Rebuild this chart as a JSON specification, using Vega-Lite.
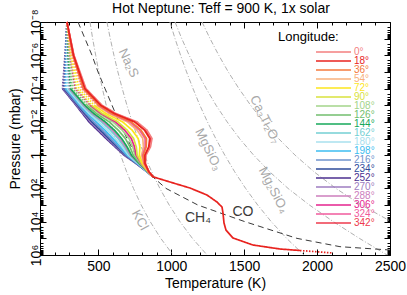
{
"$schema": "https://vega.github.io/schema/vega-lite/v6.json",
"width": 350, "height": 233,
"autosize": {"type": "none"},
"padding": {"left": 40, "top": 22, "right": 17, "bottom": 40},
"background": "white",
"config": {"font": "Liberation Sans", "view": {"stroke": "black", "strokeWidth": 1}},
"title": {"text": "Hot Neptune: Teff = 900 K, 1x solar", "fontSize": 14, "fontWeight": "normal", "color": "black", "anchor": "middle", "offset": -7, "dx": 6},
"datasets": {
"cond": [
{"name":"KCl","T":443,"P":1e-8},{"name":"KCl","T":461,"P":1e-7},{"name":"KCl","T":482,"P":1e-6},{"name":"KCl","T":503,"P":1e-5},{"name":"KCl","T":528,"P":1e-4},{"name":"KCl","T":554,"P":1e-3},{"name":"KCl","T":584,"P":1e-2},{"name":"KCl","T":616,"P":0.1},{"name":"KCl","T":653,"P":1},{"name":"KCl","T":694,"P":10},{"name":"KCl","T":741,"P":100},{"name":"KCl","T":794,"P":1000},{"name":"KCl","T":856,"P":10000},{"name":"KCl","T":928,"P":100000},{"name":"KCl","T":1013,"P":1000000},
{"name":"Na2S","T":559,"P":1e-8},{"name":"Na2S","T":582,"P":1e-7},{"name":"Na2S","T":607,"P":1e-6},{"name":"Na2S","T":634,"P":1e-5},{"name":"Na2S","T":664,"P":1e-4},{"name":"Na2S","T":696,"P":1e-3},{"name":"Na2S","T":732,"P":1e-2},{"name":"Na2S","T":772,"P":0.1},{"name":"Na2S","T":816,"P":1},{"name":"Na2S","T":866,"P":10},{"name":"Na2S","T":922,"P":100},{"name":"Na2S","T":986,"P":1000},{"name":"Na2S","T":1060,"P":10000},{"name":"Na2S","T":1145,"P":100000},{"name":"Na2S","T":1246,"P":1000000},
{"name":"MgSiO3","T":991,"P":1e-8},{"name":"MgSiO3","T":1026,"P":1e-7},{"name":"MgSiO3","T":1064,"P":1e-6},{"name":"MgSiO3","T":1105,"P":1e-5},{"name":"MgSiO3","T":1149,"P":1e-4},{"name":"MgSiO3","T":1196,"P":1e-3},{"name":"MgSiO3","T":1248,"P":1e-2},{"name":"MgSiO3","T":1305,"P":0.1},{"name":"MgSiO3","T":1367,"P":1},{"name":"MgSiO3","T":1435,"P":10},{"name":"MgSiO3","T":1510,"P":100},{"name":"MgSiO3","T":1593,"P":1000},{"name":"MgSiO3","T":1686,"P":10000},{"name":"MgSiO3","T":1791,"P":100000},{"name":"MgSiO3","T":1910,"P":1000000},
{"name":"Mg2SiO4","T":1026,"P":1e-8},{"name":"Mg2SiO4","T":1072,"P":1e-7},{"name":"Mg2SiO4","T":1123,"P":1e-6},{"name":"Mg2SiO4","T":1178,"P":1e-5},{"name":"Mg2SiO4","T":1240,"P":1e-4},{"name":"Mg2SiO4","T":1307,"P":1e-3},{"name":"Mg2SiO4","T":1383,"P":1e-2},{"name":"Mg2SiO4","T":1468,"P":0.1},{"name":"Mg2SiO4","T":1565,"P":1},{"name":"Mg2SiO4","T":1675,"P":10},{"name":"Mg2SiO4","T":1801,"P":100},{"name":"Mg2SiO4","T":1948,"P":1000},{"name":"Mg2SiO4","T":2112,"P":10000},{"name":"Mg2SiO4","T":2290,"P":100000},{"name":"Mg2SiO4","T":2480,"P":1000000},
{"name":"Ca3Ti2O7","T":1211,"P":1e-8},{"name":"Ca3Ti2O7","T":1266,"P":1e-7},{"name":"Ca3Ti2O7","T":1326,"P":1e-6},{"name":"Ca3Ti2O7","T":1391,"P":1e-5},{"name":"Ca3Ti2O7","T":1464,"P":1e-4},{"name":"Ca3Ti2O7","T":1544,"P":1e-3},{"name":"Ca3Ti2O7","T":1634,"P":1e-2},{"name":"Ca3Ti2O7","T":1735,"P":0.1},{"name":"Ca3Ti2O7","T":1849,"P":1},{"name":"Ca3Ti2O7","T":1979,"P":10},{"name":"Ca3Ti2O7","T":2129,"P":100},{"name":"Ca3Ti2O7","T":2304,"P":1000},{"name":"Ca3Ti2O7","T":2510,"P":10000},{"name":"Ca3Ti2O7","T":2756,"P":100000}
],
"chco": [
{"T":360.6,"P":1e-8},{"T":408.6,"P":1e-7},{"T":456.6,"P":1e-6},{"T":497.7,"P":1e-5},{"T":545.7,"P":1e-4},{"T":593.7,"P":1e-3},{"T":641.7,"P":1e-2},{"T":696.6,"P":0.1},{"T":758.3,"P":1},{"T":833.7,"P":10},{"T":964,"P":100},{"T":1183,"P":1000},{"T":1506,"P":10000},{"T":1862,"P":100000},{"T":2157,"P":316228},{"T":2500,"P":501187}
],
"condlabels": [
{"name":"Na₂S","T":707,"P":2.9e-6},
{"name":"MgSiO₃","T":1255,"P":0.46},
{"name":"Ca₃Ti₂O₇","T":1643,"P":0.0072},
{"name":"Mg₂SiO₄","T":1701,"P":126},
{"name":"KCl","T":786,"P":7943}
],
"species": [
{"name":"CH₄","T":1183,"P":6000},
{"name":"CO","T":1492,"P":2630}
],
"tp": [
{"lon":"252°","T":285.1,"P":1e-8,"seg":"dotted"},{"lon":"252°","T":271.4,"P":1e-6,"seg":"dotted"},{"lon":"252°","T":254.3,"P":1e-4,"seg":"dotted"},
{"lon":"252°","T":254.3,"P":1e-4,"seg":"solid"},{"lon":"252°","T":346.9,"P":0.001,"seg":"solid"},{"lon":"252°","T":391.4,"P":0.003162,"seg":"solid"},{"lon":"252°","T":436.0,"P":0.01,"seg":"solid"},{"lon":"252°","T":494.3,"P":0.03162,"seg":"solid"},{"lon":"252°","T":552.6,"P":0.1,"seg":"solid"},{"lon":"252°","T":614.3,"P":0.3162,"seg":"solid"},{"lon":"252°","T":676.0,"P":1,"seg":"solid"},{"lon":"252°","T":758.3,"P":3.162,"seg":"solid"},{"lon":"252°","T":833.7,"P":10,"seg":"solid"},{"lon":"252°","T":874.8,"P":19.95,"seg":"solid"},
{"lon":"270°","T":285.1,"P":1e-8,"seg":"dotted"},{"lon":"270°","T":273.3,"P":1e-6,"seg":"dotted"},{"lon":"270°","T":259.1,"P":1e-4,"seg":"dotted"},
{"lon":"270°","T":259.1,"P":1e-4,"seg":"solid"},{"lon":"270°","T":352.2,"P":0.001,"seg":"solid"},{"lon":"270°","T":398.3,"P":0.003162,"seg":"solid"},{"lon":"270°","T":445.9,"P":0.01,"seg":"solid"},{"lon":"270°","T":504.5,"P":0.03162,"seg":"solid"},{"lon":"270°","T":562.1,"P":0.1,"seg":"solid"},{"lon":"270°","T":621.6,"P":0.3162,"seg":"solid"},{"lon":"270°","T":680.5,"P":1,"seg":"solid"},{"lon":"270°","T":760.3,"P":3.162,"seg":"solid"},{"lon":"270°","T":834.1,"P":10,"seg":"solid"},{"lon":"270°","T":874.8,"P":19.95,"seg":"solid"},
{"lon":"234°","T":285.1,"P":1e-8,"seg":"dotted"},{"lon":"234°","T":275.1,"P":1e-6,"seg":"dotted"},{"lon":"234°","T":264.0,"P":1e-4,"seg":"dotted"},
{"lon":"234°","T":264.0,"P":1e-4,"seg":"solid"},{"lon":"234°","T":357.6,"P":0.001,"seg":"solid"},{"lon":"234°","T":405.2,"P":0.003162,"seg":"solid"},{"lon":"234°","T":455.7,"P":0.01,"seg":"solid"},{"lon":"234°","T":514.7,"P":0.03162,"seg":"solid"},{"lon":"234°","T":571.5,"P":0.1,"seg":"solid"},{"lon":"234°","T":628.9,"P":0.3162,"seg":"solid"},{"lon":"234°","T":685.0,"P":1,"seg":"solid"},{"lon":"234°","T":762.2,"P":3.162,"seg":"solid"},{"lon":"234°","T":834.5,"P":10,"seg":"solid"},{"lon":"234°","T":874.8,"P":19.95,"seg":"solid"},
{"lon":"216°","T":285.1,"P":1e-8,"seg":"dotted"},{"lon":"216°","T":277.6,"P":1e-6,"seg":"dotted"},{"lon":"216°","T":270.4,"P":1e-4,"seg":"dotted"},
{"lon":"216°","T":270.4,"P":1e-4,"seg":"solid"},{"lon":"216°","T":364.7,"P":0.001,"seg":"solid"},{"lon":"216°","T":414.4,"P":0.003162,"seg":"solid"},{"lon":"216°","T":468.9,"P":0.01,"seg":"solid"},{"lon":"216°","T":528.2,"P":0.03162,"seg":"solid"},{"lon":"216°","T":584.1,"P":0.1,"seg":"solid"},{"lon":"216°","T":638.6,"P":0.3162,"seg":"solid"},{"lon":"216°","T":691.1,"P":1,"seg":"solid"},{"lon":"216°","T":764.8,"P":3.162,"seg":"solid"},{"lon":"216°","T":835.1,"P":10,"seg":"solid"},{"lon":"216°","T":874.8,"P":19.95,"seg":"solid"},
{"lon":"198°","T":285.1,"P":1e-8,"seg":"dotted"},{"lon":"198°","T":280.7,"P":1e-6,"seg":"dotted"},{"lon":"198°","T":278.5,"P":1e-4,"seg":"dotted"},
{"lon":"198°","T":278.5,"P":1e-4,"seg":"solid"},{"lon":"198°","T":373.6,"P":0.001,"seg":"solid"},{"lon":"198°","T":425.9,"P":0.003162,"seg":"solid"},{"lon":"198°","T":485.4,"P":0.01,"seg":"solid"},{"lon":"198°","T":545.2,"P":0.03162,"seg":"solid"},{"lon":"198°","T":599.9,"P":0.1,"seg":"solid"},{"lon":"198°","T":650.8,"P":0.3162,"seg":"solid"},{"lon":"198°","T":698.6,"P":1,"seg":"solid"},{"lon":"198°","T":768.1,"P":3.162,"seg":"solid"},{"lon":"198°","T":835.8,"P":10,"seg":"solid"},{"lon":"198°","T":874.8,"P":19.95,"seg":"solid"},
{"lon":"180°","T":285.1,"P":1e-8,"seg":"dotted"},{"lon":"180°","T":283.7,"P":1e-6,"seg":"dotted"},{"lon":"180°","T":286.5,"P":1e-4,"seg":"dotted"},
{"lon":"180°","T":286.5,"P":1e-4,"seg":"solid"},{"lon":"180°","T":382.5,"P":0.001,"seg":"solid"},{"lon":"180°","T":437.3,"P":0.003162,"seg":"solid"},{"lon":"180°","T":501.8,"P":0.01,"seg":"solid"},{"lon":"180°","T":562.2,"P":0.03162,"seg":"solid"},{"lon":"180°","T":615.7,"P":0.1,"seg":"solid"},{"lon":"180°","T":663.0,"P":0.3162,"seg":"solid"},{"lon":"180°","T":706.2,"P":1,"seg":"solid"},{"lon":"180°","T":771.3,"P":3.162,"seg":"solid"},{"lon":"180°","T":836.4,"P":10,"seg":"solid"},{"lon":"180°","T":874.8,"P":19.95,"seg":"solid"},
{"lon":"162°","T":285.1,"P":1e-8,"seg":"dotted"},{"lon":"162°","T":287.4,"P":1e-6,"seg":"dotted"},{"lon":"162°","T":296.2,"P":1e-4,"seg":"dotted"},
{"lon":"162°","T":296.2,"P":1e-4,"seg":"solid"},{"lon":"162°","T":393.2,"P":0.001,"seg":"solid"},{"lon":"162°","T":451.1,"P":0.003162,"seg":"solid"},{"lon":"162°","T":521.6,"P":0.01,"seg":"solid"},{"lon":"162°","T":582.5,"P":0.03162,"seg":"solid"},{"lon":"162°","T":634.6,"P":0.1,"seg":"solid"},{"lon":"162°","T":677.6,"P":0.3162,"seg":"solid"},{"lon":"162°","T":715.2,"P":1,"seg":"solid"},{"lon":"162°","T":775.2,"P":3.162,"seg":"solid"},{"lon":"162°","T":837.3,"P":10,"seg":"solid"},{"lon":"162°","T":874.8,"P":19.95,"seg":"solid"},
{"lon":"288°","T":285.1,"P":1e-8,"seg":"dotted"},{"lon":"288°","T":289.9,"P":1e-6,"seg":"dotted"},{"lon":"288°","T":302.6,"P":1e-4,"seg":"dotted"},
{"lon":"288°","T":302.6,"P":1e-4,"seg":"solid"},{"lon":"288°","T":400.4,"P":0.001,"seg":"solid"},{"lon":"288°","T":460.3,"P":0.003162,"seg":"solid"},{"lon":"288°","T":534.7,"P":0.01,"seg":"solid"},{"lon":"288°","T":596.1,"P":0.03162,"seg":"solid"},{"lon":"288°","T":647.2,"P":0.1,"seg":"solid"},{"lon":"288°","T":687.3,"P":0.3162,"seg":"solid"},{"lon":"288°","T":721.2,"P":1,"seg":"solid"},{"lon":"288°","T":777.8,"P":3.162,"seg":"solid"},{"lon":"288°","T":837.8,"P":10,"seg":"solid"},{"lon":"288°","T":874.8,"P":19.95,"seg":"solid"},
{"lon":"144°","T":285.1,"P":1e-8,"seg":"dotted"},{"lon":"144°","T":292.4,"P":1e-6,"seg":"dotted"},{"lon":"144°","T":309.1,"P":1e-4,"seg":"dotted"},
{"lon":"144°","T":309.1,"P":1e-4,"seg":"solid"},{"lon":"144°","T":407.5,"P":0.001,"seg":"solid"},{"lon":"144°","T":469.5,"P":0.003162,"seg":"solid"},{"lon":"144°","T":547.9,"P":0.01,"seg":"solid"},{"lon":"144°","T":609.7,"P":0.03162,"seg":"solid"},{"lon":"144°","T":659.8,"P":0.1,"seg":"solid"},{"lon":"144°","T":697.1,"P":0.3162,"seg":"solid"},{"lon":"144°","T":727.3,"P":1,"seg":"solid"},{"lon":"144°","T":780.4,"P":3.162,"seg":"solid"},{"lon":"144°","T":838.4,"P":10,"seg":"solid"},{"lon":"144°","T":874.8,"P":19.95,"seg":"solid"},
{"lon":"126°","T":285.1,"P":1e-8,"seg":"dotted"},{"lon":"126°","T":297.3,"P":1e-6,"seg":"dotted"},{"lon":"126°","T":322.0,"P":1e-4,"seg":"dotted"},{"lon":"126°","T":421.7,"P":0.001,"seg":"dotted"},
{"lon":"126°","T":421.7,"P":0.001,"seg":"solid"},{"lon":"126°","T":487.9,"P":0.003162,"seg":"solid"},{"lon":"126°","T":574.2,"P":0.01,"seg":"solid"},{"lon":"126°","T":636.8,"P":0.03162,"seg":"solid"},{"lon":"126°","T":685.1,"P":0.1,"seg":"solid"},{"lon":"126°","T":716.5,"P":0.3162,"seg":"solid"},{"lon":"126°","T":739.3,"P":1,"seg":"solid"},{"lon":"126°","T":785.6,"P":3.162,"seg":"solid"},{"lon":"126°","T":839.5,"P":10,"seg":"solid"},{"lon":"126°","T":874.8,"P":19.95,"seg":"solid"},
{"lon":"108°","T":285.1,"P":1e-8,"seg":"dotted"},{"lon":"108°","T":302.3,"P":1e-6,"seg":"dotted"},{"lon":"108°","T":334.9,"P":1e-4,"seg":"dotted"},{"lon":"108°","T":436.0,"P":0.001,"seg":"dotted"},
{"lon":"108°","T":436.0,"P":0.001,"seg":"solid"},{"lon":"108°","T":506.3,"P":0.003162,"seg":"solid"},{"lon":"108°","T":600.6,"P":0.01,"seg":"solid"},{"lon":"108°","T":664.0,"P":0.03162,"seg":"solid"},{"lon":"108°","T":710.3,"P":0.1,"seg":"solid"},{"lon":"108°","T":736.0,"P":0.3162,"seg":"solid"},{"lon":"108°","T":751.4,"P":1,"seg":"solid"},{"lon":"108°","T":790.9,"P":3.162,"seg":"solid"},{"lon":"108°","T":840.6,"P":10,"seg":"solid"},{"lon":"108°","T":874.8,"P":19.95,"seg":"solid"},
{"lon":"306°","T":285.1,"P":1e-8,"seg":"dotted"},{"lon":"306°","T":305.3,"P":1e-6,"seg":"dotted"},{"lon":"306°","T":342.9,"P":1e-4,"seg":"dotted"},{"lon":"306°","T":444.9,"P":0.001,"seg":"dotted"},
{"lon":"306°","T":444.9,"P":0.001,"seg":"solid"},{"lon":"306°","T":517.7,"P":0.003162,"seg":"solid"},{"lon":"306°","T":617.0,"P":0.01,"seg":"solid"},{"lon":"306°","T":681.0,"P":0.03162,"seg":"solid"},{"lon":"306°","T":726.1,"P":0.1,"seg":"solid"},{"lon":"306°","T":748.2,"P":0.3162,"seg":"solid"},{"lon":"306°","T":758.9,"P":1,"seg":"solid"},{"lon":"306°","T":794.1,"P":3.162,"seg":"solid"},{"lon":"306°","T":841.2,"P":10,"seg":"solid"},{"lon":"306°","T":874.8,"P":19.95,"seg":"solid"},
{"lon":"90°","T":285.1,"P":1e-8,"seg":"dotted"},{"lon":"90°","T":308.4,"P":1e-6,"seg":"dotted"},{"lon":"90°","T":351.0,"P":1e-4,"seg":"dotted"},{"lon":"90°","T":453.8,"P":0.001,"seg":"dotted"},
{"lon":"90°","T":453.8,"P":0.001,"seg":"solid"},{"lon":"90°","T":529.2,"P":0.003162,"seg":"solid"},{"lon":"90°","T":633.5,"P":0.01,"seg":"solid"},{"lon":"90°","T":697.9,"P":0.03162,"seg":"solid"},{"lon":"90°","T":741.8,"P":0.1,"seg":"solid"},{"lon":"90°","T":760.3,"P":0.3162,"seg":"solid"},{"lon":"90°","T":766.5,"P":1,"seg":"solid"},{"lon":"90°","T":797.4,"P":3.162,"seg":"solid"},{"lon":"90°","T":841.9,"P":10,"seg":"solid"},{"lon":"90°","T":874.8,"P":19.95,"seg":"solid"},
{"lon":"72°","T":285.1,"P":1e-8,"seg":"dotted"},{"lon":"72°","T":314.6,"P":1e-6,"seg":"dotted"},{"lon":"72°","T":367.1,"P":1e-4,"seg":"dotted"},{"lon":"72°","T":471.6,"P":0.001,"seg":"dotted"},
{"lon":"72°","T":471.6,"P":0.001,"seg":"solid"},{"lon":"72°","T":552.2,"P":0.003162,"seg":"solid"},{"lon":"72°","T":666.4,"P":0.01,"seg":"solid"},{"lon":"72°","T":731.9,"P":0.03162,"seg":"solid"},{"lon":"72°","T":773.4,"P":0.1,"seg":"solid"},{"lon":"72°","T":784.7,"P":0.3162,"seg":"solid"},{"lon":"72°","T":781.6,"P":1,"seg":"solid"},{"lon":"72°","T":803.9,"P":3.162,"seg":"solid"},{"lon":"72°","T":843.3,"P":10,"seg":"solid"},{"lon":"72°","T":874.8,"P":19.95,"seg":"solid"},
{"lon":"54°","T":285.1,"P":1e-8,"seg":"dotted"},{"lon":"54°","T":320.8,"P":1e-6,"seg":"dotted"},{"lon":"54°","T":383.2,"P":1e-4,"seg":"dotted"},{"lon":"54°","T":489.5,"P":0.001,"seg":"dotted"},
{"lon":"54°","T":489.5,"P":0.001,"seg":"solid"},{"lon":"54°","T":575.2,"P":0.003162,"seg":"solid"},{"lon":"54°","T":699.3,"P":0.01,"seg":"solid"},{"lon":"54°","T":765.8,"P":0.03162,"seg":"solid"},{"lon":"54°","T":804.9,"P":0.1,"seg":"solid"},{"lon":"54°","T":809.0,"P":0.3162,"seg":"solid"},{"lon":"54°","T":796.6,"P":1,"seg":"solid"},{"lon":"54°","T":810.4,"P":3.162,"seg":"solid"},{"lon":"54°","T":844.7,"P":10,"seg":"solid"},{"lon":"54°","T":874.8,"P":19.95,"seg":"solid"},
{"lon":"324°","T":285.1,"P":1e-8,"seg":"dotted"},{"lon":"324°","T":323.8,"P":1e-6,"seg":"dotted"},{"lon":"324°","T":391.2,"P":1e-4,"seg":"dotted"},{"lon":"324°","T":498.4,"P":0.001,"seg":"dotted"},
{"lon":"324°","T":498.4,"P":0.001,"seg":"solid"},{"lon":"324°","T":586.6,"P":0.003162,"seg":"solid"},{"lon":"324°","T":715.7,"P":0.01,"seg":"solid"},{"lon":"324°","T":782.8,"P":0.03162,"seg":"solid"},{"lon":"324°","T":820.7,"P":0.1,"seg":"solid"},{"lon":"324°","T":821.2,"P":0.3162,"seg":"solid"},{"lon":"324°","T":804.2,"P":1,"seg":"solid"},{"lon":"324°","T":813.6,"P":3.162,"seg":"solid"},{"lon":"324°","T":845.3,"P":10,"seg":"solid"},{"lon":"324°","T":874.8,"P":19.95,"seg":"solid"},
{"lon":"36°","T":285.1,"P":1e-8,"seg":"solid"},{"lon":"36°","T":325.7,"P":1e-6,"seg":"solid"},{"lon":"36°","T":396.1,"P":1e-4,"seg":"solid"},{"lon":"36°","T":503.7,"P":0.001,"seg":"solid"},{"lon":"36°","T":593.5,"P":0.003162,"seg":"solid"},{"lon":"36°","T":725.6,"P":0.01,"seg":"solid"},{"lon":"36°","T":793.0,"P":0.03162,"seg":"solid"},{"lon":"36°","T":830.2,"P":0.1,"seg":"solid"},{"lon":"36°","T":828.5,"P":0.3162,"seg":"solid"},{"lon":"36°","T":808.7,"P":1,"seg":"solid"},{"lon":"36°","T":815.6,"P":3.162,"seg":"solid"},{"lon":"36°","T":845.8,"P":10,"seg":"solid"},{"lon":"36°","T":874.8,"P":19.95,"seg":"solid"},
{"lon":"342°","T":285.1,"P":1e-8,"seg":"solid"},{"lon":"342°","T":331.2,"P":1e-6,"seg":"solid"},{"lon":"342°","T":410.6,"P":1e-4,"seg":"solid"},{"lon":"342°","T":519.8,"P":0.001,"seg":"solid"},{"lon":"342°","T":614.2,"P":0.003162,"seg":"solid"},{"lon":"342°","T":755.2,"P":0.01,"seg":"solid"},{"lon":"342°","T":823.5,"P":0.03162,"seg":"solid"},{"lon":"342°","T":858.5,"P":0.1,"seg":"solid"},{"lon":"342°","T":850.4,"P":0.3162,"seg":"solid"},{"lon":"342°","T":822.3,"P":1,"seg":"solid"},{"lon":"342°","T":821.4,"P":3.162,"seg":"solid"},{"lon":"342°","T":847.0,"P":10,"seg":"solid"},{"lon":"342°","T":874.8,"P":19.95,"seg":"solid"},
{"lon":"0°","T":285.1,"P":1e-8,"seg":"solid"},{"lon":"0°","T":333.1,"P":1e-6,"seg":"solid"},{"lon":"0°","T":415.4,"P":1e-4,"seg":"solid"},{"lon":"0°","T":525.1,"P":0.001,"seg":"solid"},{"lon":"0°","T":621.1,"P":0.003162,"seg":"solid"},{"lon":"0°","T":765.1,"P":0.01,"seg":"solid"},{"lon":"0°","T":833.7,"P":0.03162,"seg":"solid"},{"lon":"0°","T":868.0,"P":0.1,"seg":"solid"},{"lon":"0°","T":857.7,"P":0.3162,"seg":"solid"},{"lon":"0°","T":826.8,"P":1,"seg":"solid"},{"lon":"0°","T":823.4,"P":3.162,"seg":"solid"},{"lon":"0°","T":847.4,"P":10,"seg":"solid"},{"lon":"0°","T":874.8,"P":19.95,"seg":"solid"},
{"lon":"18°","T":285.1,"P":1e-8,"seg":"solid"},{"lon":"18°","T":330.0,"P":1e-6,"seg":"solid"},{"lon":"18°","T":407.3,"P":1e-4,"seg":"solid"},{"lon":"18°","T":516.2,"P":0.001,"seg":"solid"},{"lon":"18°","T":609.6,"P":0.003162,"seg":"solid"},{"lon":"18°","T":748.6,"P":0.01,"seg":"solid"},{"lon":"18°","T":816.7,"P":0.03162,"seg":"solid"},{"lon":"18°","T":852.2,"P":0.1,"seg":"solid"},{"lon":"18°","T":845.5,"P":0.3162,"seg":"solid"},{"lon":"18°","T":819.3,"P":1,"seg":"solid"},{"lon":"18°","T":820.1,"P":3.162,"seg":"solid"},{"lon":"18°","T":846.7,"P":10,"seg":"solid"},{"lon":"18°","T":874.8,"P":19.95,"seg":"solid"},
{"lon":"18°","T":991.4,"P":41.2,"seg":"solid"},{"lon":"18°","T":1128.6,"P":94.6,"seg":"solid"},{"lon":"18°","T":1245,"P":249,"seg":"solid"},{"lon":"18°","T":1313.7,"P":656,"seg":"solid"},{"lon":"18°","T":1348,"P":1312,"seg":"solid"},{"lon":"18°","T":1354.8,"P":3006,"seg":"solid"},{"lon":"18°","T":1361.7,"P":12000,"seg":"solid"},{"lon":"18°","T":1375.4,"P":31623,"seg":"solid"},{"lon":"18°","T":1423.4,"P":95500,"seg":"solid"},{"lon":"18°","T":1560.5,"P":251189,"seg":"solid"},{"lon":"18°","T":1745.7,"P":436516,"seg":"solid"},{"lon":"18°","T":1882.8,"P":537032,"seg":"solid"},
{"lon":"18°","T":1882.8,"P":537032,"seg":"dotted"},{"lon":"18°","T":2109,"P":758578,"seg":"dotted"}
]
},
"layer": [
{
"data": {"name": "cond"},
"mark": {"type": "line", "color": "#b0b0b0", "strokeWidth": 1, "strokeDash": [5, 2, 1, 2], "clip": true},
"encoding": {
"x": {"field": "T", "type": "quantitative", "scale": {"domain": [100, 2500], "nice": false},
"axis": {"orient": "bottom", "values": [200,300,400,500,600,700,800,900,1000,1100,1200,1300,1400,1500,1600,1700,1800,1900,2000,2100,2200,2300,2400,2500],
"title": "Temperature (K)", "titleFontSize": 14, "titleFontWeight": "normal", "titleColor": "black", "titlePadding": 0,
"labelFontSize": 14, "labelColor": "black", "labelExpr": "datum.value % 500 == 0 ? format(datum.value, 'd') : ''", "labelOverlap": false, "labelFlush": false, "labelPadding": 10,
"tickSize": {"condition": {"test": "datum.value % 500 == 0", "value": -6}, "value": -3}, "tickColor": "black", "domain": false, "grid": false}},
"y": {"field": "P", "type": "quantitative", "scale": {"type": "log", "domain": [1e-8, 1e6], "reverse": true, "nice": false},
"axis": {"orient": "left", "values": [1e-8,2e-8,3e-8,4e-8,5e-8,6e-8,7e-8,8e-8,9e-8,1e-7,2e-7,3e-7,4e-7,5e-7,6e-7,7e-7,8e-7,9e-7,1e-6,2e-6,3e-6,4e-6,5e-6,6e-6,7e-6,8e-6,9e-6,1e-5,2e-5,3e-5,4e-5,5e-5,6e-5,7e-5,8e-5,9e-5,1e-4,2e-4,3e-4,4e-4,5e-4,6e-4,7e-4,8e-4,9e-4,1e-3,2e-3,3e-3,4e-3,5e-3,6e-3,7e-3,8e-3,9e-3,1e-2,2e-2,3e-2,4e-2,5e-2,6e-2,7e-2,8e-2,9e-2,0.1,0.2,0.3,0.4,0.5,0.6,0.7,0.8,0.9,1,2,3,4,5,6,7,8,9,10,20,30,40,50,60,70,80,90,100,200,300,400,500,600,700,800,900,1000,2000,3000,4000,5000,6000,7000,8000,9000,10000,20000,30000,40000,50000,60000,70000,80000,90000,100000,200000,300000,400000,500000,600000,700000,800000,900000,1000000],
"title": "Pressure (mbar)", "titleFontSize": 14, "titleFontWeight": "normal", "titleColor": "black", "titlePadding": 4,
"labelFontSize": 14, "labelColor": "black", "labelAngle": 270, "labelAlign": "center", "labelBaseline": "bottom", "labelOverlap": false, "labelFlush": false, "labelPadding": 3,
"labelExpr": "abs(log(datum.value)/LN10 - round(log(datum.value)/LN10)) > 0.01 ? '' : round(log(datum.value)/LN10) == -8 ? '10⁻⁸' : round(log(datum.value)/LN10) == -6 ? '10⁻⁶' : round(log(datum.value)/LN10) == -4 ? '10⁻⁴' : round(log(datum.value)/LN10) == -2 ? '10⁻²' : round(log(datum.value)/LN10) == 0 ? '1' : round(log(datum.value)/LN10) == 2 ? '10²' : round(log(datum.value)/LN10) == 4 ? '10⁴' : round(log(datum.value)/LN10) == 6 ? '10⁶' : ''",
"tickSize": {"condition": {"test": "abs(log(datum.value)/LN10 - round(log(datum.value)/LN10)) < 0.01", "value": -6}, "value": -3}, "tickColor": "black", "domain": false, "grid": false}},
"detail": {"field": "name", "type": "nominal"},
"order": {"field": "P", "type": "quantitative"}
}
},
{
"data": {"name": "chco"},
"mark": {"type": "line", "color": "#3a3a3a", "strokeWidth": 1, "strokeDash": [6, 4], "clip": true},
"encoding": {
"x": {"field": "T", "type": "quantitative", "scale": {"domain": [100, 2500], "nice": false},
"axis": {"orient": "top", "values": [200,300,400,500,600,700,800,900,1000,1100,1200,1300,1400,1500,1600,1700,1800,1900,2000,2100,2200,2300,2400,2500], "labels": false, "title": null,
"tickSize": {"condition": {"test": "datum.value % 500 == 0", "value": -6}, "value": -3}, "tickColor": "black", "domain": false, "grid": false}},
"y": {"field": "P", "type": "quantitative", "scale": {"type": "log", "domain": [1e-8, 1e6], "reverse": true, "nice": false},
"axis": {"orient": "right", "values": [1e-8,2e-8,3e-8,4e-8,5e-8,6e-8,7e-8,8e-8,9e-8,1e-7,2e-7,3e-7,4e-7,5e-7,6e-7,7e-7,8e-7,9e-7,1e-6,2e-6,3e-6,4e-6,5e-6,6e-6,7e-6,8e-6,9e-6,1e-5,2e-5,3e-5,4e-5,5e-5,6e-5,7e-5,8e-5,9e-5,1e-4,2e-4,3e-4,4e-4,5e-4,6e-4,7e-4,8e-4,9e-4,1e-3,2e-3,3e-3,4e-3,5e-3,6e-3,7e-3,8e-3,9e-3,1e-2,2e-2,3e-2,4e-2,5e-2,6e-2,7e-2,8e-2,9e-2,0.1,0.2,0.3,0.4,0.5,0.6,0.7,0.8,0.9,1,2,3,4,5,6,7,8,9,10,20,30,40,50,60,70,80,90,100,200,300,400,500,600,700,800,900,1000,2000,3000,4000,5000,6000,7000,8000,9000,10000,20000,30000,40000,50000,60000,70000,80000,90000,100000,200000,300000,400000,500000,600000,700000,800000,900000,1000000], "labels": false, "title": null,
"tickSize": {"condition": {"test": "abs(log(datum.value)/LN10 - round(log(datum.value)/LN10)) < 0.01", "value": -6}, "value": -3}, "tickColor": "black", "domain": false, "grid": false}},
"order": {"field": "P", "type": "quantitative"}
}
},
{
"data": {"name": "condlabels"},
"mark": {"type": "text", "color": "#a8a8a8", "fontSize": 13},
"encoding": {
"x": {"field": "T", "type": "quantitative", "axis": null},
"y": {"field": "P", "type": "quantitative", "axis": null},
"text": {"field": "name"},
"angle": {"field": "name", "type": "nominal", "scale": {"domain": ["Na₂S","MgSiO₃","Ca₃Ti₂O₇","Mg₂SiO₄","KCl"], "range": [65, 62, 50, 55, 295]}, "legend": null}
}
},
{
"data": {"name": "species"},
"mark": {"type": "text", "color": "#3a3a3a", "fontSize": 14},
"encoding": {
"x": {"field": "T", "type": "quantitative", "axis": null},
"y": {"field": "P", "type": "quantitative", "axis": null},
"text": {"field": "name"}
}
},
{
"data": {"name": "tp"},
"mark": {"type": "line", "strokeWidth": 1.7},
"encoding": {
"x": {"field": "T", "type": "quantitative", "axis": null},
"y": {"field": "P", "type": "quantitative", "axis": null},
"color": {"field": "lon", "type": "nominal",
"scale": {"domain": ["0°","18°","36°","54°","72°","90°","108°","126°","144°","162°","180°","198°","216°","234°","252°","270°","288°","306°","324°","342°"],
"range": ["#f37f7f","#e8231f","#f47a3c","#f8b07c","#fce61c","#d9e23c","#a3d48a","#72be6e","#16a85a","#73cfd3","#a8e0ee","#3cbdf0","#6f93cc","#2e4b9a","#4b2f8f","#9e7cc0","#cc7ebd","#e5238e","#f05a9c","#ee3a4d"]},
"legend": {"title": "Longitude:", "orient": "none", "legendX": 238, "legendY": 9, "padding": 0,
"titleFontSize": 13, "titleFontWeight": "normal", "titleColor": "black", "titlePadding": 4,
"labelFontSize": 10, "symbolType": "stroke", "symbolSize": 1225, "symbolStrokeWidth": 1.6, "symbolOffset": 37, "labelOffset": 2, "clipHeight": 8, "rowPadding": -3.8,
"encode": {"labels": {"update": {"fill": {"scale": "color", "field": "value"}}}}}},
"detail": {"field": "seg", "type": "nominal"},
"strokeDash": {"field": "seg", "type": "nominal", "scale": {"domain": ["solid", "dotted"], "range": [[1, 0], [1.5, 1.5]]}, "legend": null},
"order": {"field": "P", "type": "quantitative"}
}
}
],
"resolve": {"axis": {"x": "independent", "y": "independent"}}
}
